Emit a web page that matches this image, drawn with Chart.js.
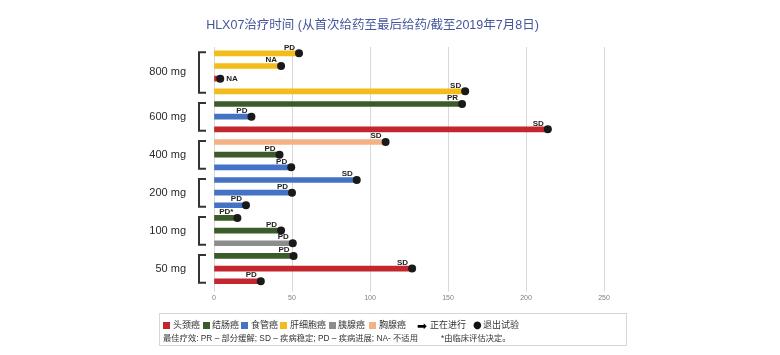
<!DOCTYPE html>
<html><head><meta charset="utf-8">
<script src="https://cdn.jsdelivr.net/npm/chart.js@4/dist/chart.umd.min.js"></script>
<style>
body{margin:0;background:#fff;}
#wrap{position:relative;width:780px;height:355px;overflow:hidden;}
#title{position:absolute;top:14px;left:0;width:745px;text-align:center;font:12.5px "Liberation Sans","Noto Sans CJK SC",sans-serif;color:#44569b;white-space:nowrap;}
#legend{position:absolute;left:159px;top:313px;width:468px;height:33px;border:1px solid #d6d6d6;box-sizing:border-box;font:9px "Liberation Sans","Noto Sans CJK SC",sans-serif;color:#333;}
#legend span{position:absolute;white-space:nowrap;line-height:11px;}
#legend .sw{width:7px;height:7px;}
#legend .fn{font-size:8.3px;}
</style></head>
<body>
<div id="wrap">
<canvas id="c"></canvas>
<div id="title">HLX07治疗时间 (从首次给药至最后给药/截至2019年7月8日)</div>
<div id="legend"></div>
</div>
<script>
// ---- data ----
const doseGroups = ['800 mg','600 mg','400 mg','200 mg','100 mg','50 mg'];
const groupSizes = [4,3,3,3,3,3];
const patients = ['P1','P2','P3','P4','P5','P6','P7','P8','P9','P10','P11','P12','P13','P14','P15','P16','P17','P18','P19'];
const patientTumor = ['肝细胞癌','肝细胞癌','头颈癌','肝细胞癌','结肠癌','食管癌','头颈癌','胸腺癌','结肠癌','食管癌','食管癌','食管癌','食管癌','结肠癌','结肠癌','胰腺癌','结肠癌','头颈癌','头颈癌'];
const durations = [54.5,43,4,161,159,24,214,110,42,49.5,91.5,50,20.5,15,43,50.5,51,127,30];
const responses = ['PD','NA','NA','SD','PR','PD','SD','SD','PD','PD','SD','PD','PD','PD*','PD','PD','PD','SD','PD'];
const xTicks = [0,50,100,150,200,250];
const tumorTypes = ['头颈癌','结肠癌','食管癌','肝细胞癌','胰腺癌','胸腺癌'];
const tumorColors = ['#c3272d','#3b5b2b','#4472c4','#f2bd1a','#8c8c8c','#f4b183'];
const legendExtra = ['正在进行','退出试验'];
const footnote1 = '最佳疗效:  PR – 部分缓解; SD – 疾病稳定; PD – 疾病进展; NA- 不适用';
const footnote2 = '*由临床评估决定。';

const colorOf = t => tumorColors[tumorTypes.indexOf(t)];

// ---- legend (HTML) ----
const lg = document.getElementById('legend');
const swX = [3,43,81,120,169,209];
const txX = [13,52,91,130,178,219];
tumorTypes.forEach((t,i)=>{
  const s=document.createElement('span');s.className='sw';s.style.left=swX[i]+'px';s.style.top='8px';s.style.background=tumorColors[i];lg.appendChild(s);
  const l=document.createElement('span');l.style.left=txX[i]+'px';l.style.top='6px';l.textContent=t;lg.appendChild(l);
});
(function(){
  const a=document.createElement('span');a.style.left='257px';a.style.top='5px';a.style.font='12px "DejaVu Sans"';a.style.color='#000';a.textContent='➡';lg.appendChild(a);
  const b=document.createElement('span');b.style.left='270px';b.style.top='6px';b.textContent=legendExtra[0];lg.appendChild(b);
  const c=document.createElement('span');c.style.left='313px';c.style.top='5px';c.style.font='10px "DejaVu Sans"';c.style.color='#111';c.textContent='●';lg.appendChild(c);
  const d=document.createElement('span');d.style.left='323px';d.style.top='6px';d.textContent=legendExtra[1];lg.appendChild(d);
  const e=document.createElement('span');e.className='fn';e.style.left='3px';e.style.top='19px';e.textContent=footnote1;lg.appendChild(e);
  const f=document.createElement('span');f.className='fn';f.style.left='281px';f.style.top='19px';f.textContent=footnote2;lg.appendChild(f);
})();

// ---- plugin: dose labels, brackets, response labels ----
const annot = {
  id:'annot',
  afterDatasetsDraw(chart){
    const ctx = chart.ctx, y = chart.scales.y;
    ctx.save();
    let start = 0;
    doseGroups.forEach((g,gi)=>{
      const end = start + groupSizes[gi] - 1;
      const y0 = y.getPixelForValue(start), y1 = y.getPixelForValue(end);
      ctx.fillStyle = '#2a2a2a';
      ctx.font = '11px "Liberation Sans", Arial, sans-serif';
      ctx.textAlign = 'right'; ctx.textBaseline = 'middle';
      ctx.fillText(g, 186, (y0+y1)/2);
      ctx.strokeStyle = '#333'; ctx.lineWidth = 2;
      ctx.beginPath();
      ctx.moveTo(206, y0-1); ctx.lineTo(199, y0-1); ctx.lineTo(199, y1+1.5); ctx.lineTo(206, y1+1.5);
      ctx.stroke();
      start = end + 1;
    });
    const meta = chart.getDatasetMeta(1);
    ctx.font = 'bold 8px "Liberation Sans", Arial, sans-serif';
    ctx.fillStyle = '#222';
    meta.data.forEach((pt,i)=>{
      if (durations[i] < 10) {
        ctx.textAlign='left'; ctx.textBaseline='middle';
        ctx.fillText(responses[i], pt.x+6, pt.y);
      } else {
        ctx.textAlign='right'; ctx.textBaseline='middle';
        ctx.fillText(responses[i], pt.x-4, pt.y-6);
      }
    });
    ctx.restore();
  }
};

new Chart(document.getElementById('c'), {
  type:'bar',
  data:{
    labels: patients,
    datasets:[
      {type:'bar', indexAxis:'y', data: durations, backgroundColor: patientTumor.map(colorOf), barThickness:5, order:2},
      {type:'line', indexAxis:'y', data: durations, showLine:false, pointRadius:4, pointBackgroundColor:'#1a1a1a', pointBorderColor:'#1a1a1a', pointBorderWidth:0, order:1}
    ]
  },
  options:{
    indexAxis:'y',
    responsive:true, maintainAspectRatio:false, animation:false,
    layout:{padding:{left:214,right:176,top:47,bottom:51}},
    plugins:{legend:{display:false},tooltip:{enabled:false},title:{display:false}},
    scales:{
      x:{min:0,max:250,
         afterBuildTicks(s){ s.ticks = xTicks.map(v=>({value:v})); },
         grid:{color:'#d9d9d9',lineWidth:1,tickLength:4,tickColor:'#d9d9d9'},
         border:{display:false},
         ticks:{font:{size:7,family:'"Liberation Sans", Arial'},color:'#808080',padding:2}},
      y:{display:false}
    }
  },
  plugins:[annot]
});
</script>
</body></html>
